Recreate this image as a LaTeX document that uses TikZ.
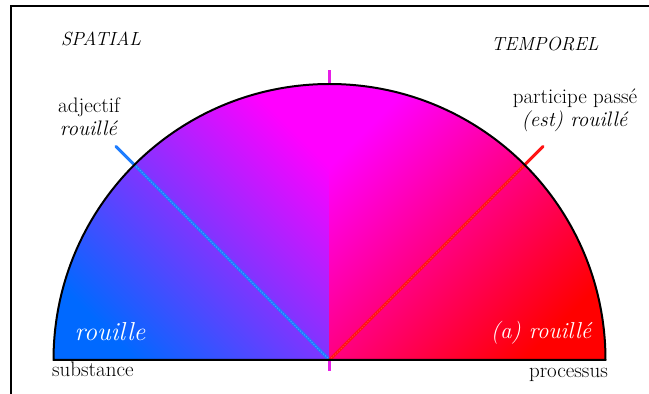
\documentclass[tikz,border=0pt]{standalone}
\definecolor{myblue}{RGB}{0,105,255}
\definecolor{mymag}{RGB}{255,0,255}
\definecolor{myred}{RGB}{255,0,0}
\definecolor{lineblue}{RGB}{30,125,255}
\definecolor{linered}{RGB}{255,20,20}
\definecolor{tickmag}{RGB}{230,30,230}
\tikzset{
  lbl/.style={inner sep=0pt, font=\fontsize{21}{23}\selectfont, align=center},
  lbli/.style={inner sep=0pt, font=\fontsize{19}{22}\selectfont\itshape},
  bigw/.style={inner sep=0pt, text=white, font=\fontsize{23}{27}\selectfont\itshape},
  ray/.style={line width=3pt, line cap=round},
  tickline/.style={line width=3pt, tickmag},
}
\begin{document}
\begin{tikzpicture}[x=1pt,y=1pt]
\useasboundingbox (0,0) rectangle (649,394);
\coordinate (C) at (329.5,34);
% frame
\draw[line width=2pt] (11,0) -- (11,388) -- (649,388);
% left quarter
\begin{scope}
\clip (C) -- ++(-276,0) arc[start angle=180,end angle=90,radius=276] -- cycle;
\shade[top color=mymag, bottom color=myblue, shading angle=-45] (53.5,34) rectangle (329.5,310);
\end{scope}
% right quarter
\begin{scope}
\clip (C) -- ++(276,0) arc[start angle=0,end angle=90,radius=276] -- cycle;
\shade[top color=mymag, bottom color=myred, shading angle=45] (329.5,34) rectangle (605.5,310);
\end{scope}
% rays
\coordinate (B) at ([shift={(C)}]135:302);
\coordinate (Rr) at ([shift={(C)}]45:302);
\draw[ray, lineblue] (C) -- (B);
\draw[ray, linered] (C) -- (Rr);
\draw[line width=0.7pt, white, opacity=0.45, dotted] (C) -- ([shift={(C)}]135:276);
\draw[line width=0.7pt, white, opacity=0.35, dotted] (C) -- ([shift={(C)}]45:276);
% outline
\draw[line width=2pt, line join=round] ([shift={(C)}]-276,0) arc[start angle=180,end angle=0,radius=276] -- cycle;
% ticks
\coordinate (T1) at ([shift={(C)}]0,277);
\coordinate (T2) at ([shift={(C)}]0,290);
\coordinate (T3) at ([shift={(C)}]0,-1);
\coordinate (T4) at ([shift={(C)}]0,-11);
\draw[tickline] (T1) -- (T2);
\draw[tickline] (T3) -- (T4);
% labels
\node[lbli] (spatial) at (101,355) {SPATIAL};
\node[lbli] (temporel) at (545,350) {TEMPOREL};
\node[lbl] (adj) at (89,277) {adjectif\\\textit{rouillé}};
\node[lbl] (pp) at (575,284) {participe passé\\\textit{(est) rouillé}};
\node[bigw, font=\fontsize{26}{28}\selectfont\itshape] (rouille) at (110,62) {rouille};
\node[bigw] (arouille) at (541,61) {(a) rouillé};
\node[lbl, anchor=base west] (subst) at (52,17) {substance};
\node[lbl, anchor=base east] (proc) at (608,16) {processus};
\end{tikzpicture}
\end{document}
